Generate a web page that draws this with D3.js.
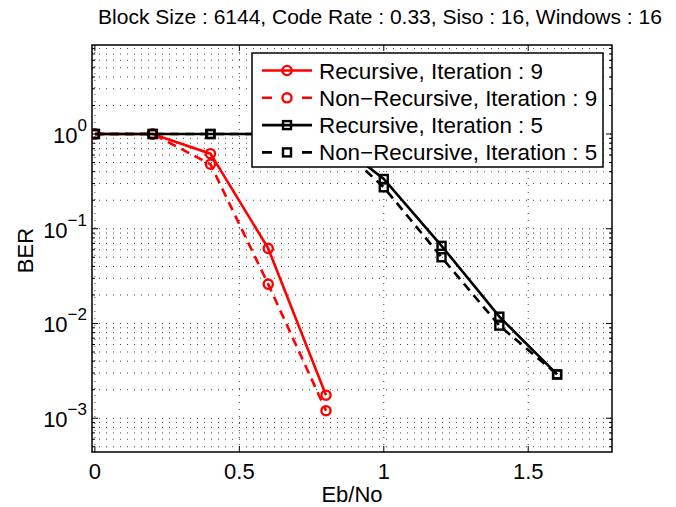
<!DOCTYPE html>
<html lang="en">
<head>
<meta charset="utf-8">
<title>BER vs Eb/No</title>
<script src="https://cdnjs.cloudflare.com/ajax/libs/d3/7.8.5/d3.min.js"></script>
<style>
  body { margin: 0; background: #fff; }
  svg text { font-family: "Liberation Sans", Arial, sans-serif; fill: #000; }
</style>
</head>
<body>
<div id="chart"></div>
<script>
// data
var ebNo = [0, 0.2, 0.4, 0.6, 0.8, 1.0, 1.2, 1.4, 1.6];
var recIter9 = [1, 1, 0.62, 0.062, 0.00175];
var nonRecIter9 = [1, 1, 0.48, 0.026, 0.0012];
var recIter5 = [1, 1, 1, 1, 1, 0.335, 0.066, 0.0118, 0.0029];
var nonRecIter5 = [1, 1, 1, 1, 1, 0.274, 0.050, 0.0095, 0.0029];
var seriesNames = ["Recursive, Iteration : 9", "Non\u2212Recursive, Iteration : 9",
                   "Recursive, Iteration : 5", "Non\u2212Recursive, Iteration : 5"];
var xTicks = [0, 0.5, 1, 1.5];
var yTicks = [1e-3, 1e-2, 1e-1, 1];
var yExps = ["\u22123", "\u22122", "\u22121", "0"];

var width = 676, height = 507;
var margin = {left: 92, top: 45, right: 64, bottom: 55};
var w = width - margin.left - margin.right,
    h = height - margin.top - margin.bottom;

var svg = d3.select("#chart").append("svg")
    .attr("width", width)
    .attr("height", height);

var x = d3.scaleLinear().domain([-0.01, 1.79]).range([0, w]);
var y = d3.scaleLog().domain([4.4e-4, 8.7]).range([h, 0]);

var g = svg.append("g").attr("transform", "translate(" + margin.left + "," + margin.top + ")");

// minor log ticks
var minor = [];
[-4, -3, -2, -1, 0].forEach(function(e) {
  for (var k = 1; k <= 9; k++) {
    var v = k * Math.pow(10, e);
    if (v >= y.domain()[0] && v <= y.domain()[1]) minor.push(v);
  }
});

// grid
g.selectAll(".hgrid").data(minor).enter().append("line")
    .attr("x1", 0).attr("x2", w)
    .attr("y1", function(d) { return y(d); })
    .attr("y2", function(d) { return y(d); })
    .attr("stroke", "#444").attr("stroke-width", 1)
    .attr("stroke-dasharray", "1,6");
g.selectAll(".vgrid").data(xTicks).enter().append("line")
    .attr("x1", function(d) { return x(d); })
    .attr("x2", function(d) { return x(d); })
    .attr("y1", 0).attr("y2", h)
    .attr("stroke", "#444").attr("stroke-width", 1)
    .attr("stroke-dasharray", "1,6");

// ticks inside the box
var isMajor = function(d) { return Math.abs(Math.log10(d) - Math.round(Math.log10(d))) < 1e-6; };
[0, w].forEach(function(px) {
  var dir = px === 0 ? 1 : -1;
  g.selectAll(null).data(minor).enter().append("line")
      .attr("x1", px).attr("x2", function(d) { return px + dir * (isMajor(d) ? 6 : 3); })
      .attr("y1", function(d) { return y(d); })
      .attr("y2", function(d) { return y(d); })
      .attr("stroke", "#000");
});
[0, h].forEach(function(py) {
  var dir = py === 0 ? 1 : -1;
  g.selectAll(null).data(xTicks).enter().append("line")
      .attr("x1", function(d) { return x(d); })
      .attr("x2", function(d) { return x(d); })
      .attr("y1", py).attr("y2", py + dir * 6)
      .attr("stroke", "#000");
});

// series
g.append("clipPath").attr("id", "clip")
    .append("rect").attr("width", w).attr("height", h);
var plot = g.append("g").attr("clip-path", "url(#clip)");

var line = d3.line()
    .x(function(d) { return x(d[0]); })
    .y(function(d) { return y(d[1]); });

var series = [
  {vals: recIter9, color: "#ff0000", dash: null, marker: "circle"},
  {vals: nonRecIter9, color: "#ff0000", dash: "9,6", marker: "circle"},
  {vals: recIter5, color: "#000000", dash: null, marker: "square"},
  {vals: nonRecIter5, color: "#000000", dash: "9,6", marker: "square"}
];

function drawMarker(sel, s, cx, cy) {
  if (s.marker === "circle") {
    sel.append("circle").attr("cx", cx).attr("cy", cy).attr("r", 4.6)
        .attr("fill", "none").attr("stroke", s.color).attr("stroke-width", 2.4);
  } else {
    sel.append("rect").attr("x", cx - 4).attr("y", cy - 4)
        .attr("width", 8).attr("height", 8)
        .attr("fill", "none").attr("stroke", s.color).attr("stroke-width", 2.4);
  }
}

series.forEach(function(s) {
  var pts = s.vals.map(function(v, i) { return [ebNo[i], v]; });
  plot.append("path").datum(pts)
      .attr("d", line)
      .attr("fill", "none")
      .attr("stroke", s.color)
      .attr("stroke-width", 2.6)
      .attr("stroke-dasharray", s.dash);
  pts.forEach(function(p) { drawMarker(plot, s, x(p[0]), y(p[1])); });
});

// box
g.append("rect").attr("width", w).attr("height", h)
    .attr("fill", "none").attr("stroke", "#000").attr("stroke-width", 1.5);

// tick labels
g.selectAll(".xl").data(xTicks).enter().append("text")
    .attr("x", function(d) { return x(d); })
    .attr("y", h + 27)
    .attr("text-anchor", "middle")
    .style("font-size", "22px")
    .text(function(d) { return d; });

yTicks.forEach(function(t, i) {
  var txt = g.append("text")
      .attr("x", -5).attr("y", y(t) + 9)
      .attr("text-anchor", "end")
      .style("font-size", "22px");
  txt.append("tspan").text("10");
  txt.append("tspan").attr("dy", -12).style("font-size", "17px").text(yExps[i]);
});

// axis titles
svg.append("text")
    .attr("x", margin.left + w / 2).attr("y", 502)
    .attr("text-anchor", "middle")
    .style("font-size", "22px")
    .text("Eb/No");
svg.append("text")
    .attr("transform", "translate(33," + (margin.top + h / 2 + 2) + ") rotate(-90)")
    .attr("text-anchor", "middle")
    .style("font-size", "22px")
    .text("BER");
svg.append("text")
    .attr("x", 380).attr("y", 24)
    .attr("text-anchor", "middle")
    .style("font-size", "21px")
    .text("Block Size : 6144, Code Rate : 0.33, Siso : 16, Windows : 16");

// legend
var leg = svg.append("g").attr("transform", "translate(252,53)");
leg.append("rect").attr("width", 351).attr("height", 114)
    .attr("fill", "#fff").attr("stroke", "#000").attr("stroke-width", 1.5);
series.forEach(function(s, i) {
  var cy = 17.5 + i * 27.3;
  leg.append("line").attr("x1", 10).attr("x2", 60)
      .attr("y1", cy).attr("y2", cy)
      .attr("stroke", s.color).attr("stroke-width", 2.6)
      .attr("stroke-dasharray", s.dash ? "10,30,10" : null);
  drawMarker(leg, s, 35, cy);
  leg.append("text").attr("x", 67).attr("y", cy + 8)
      .style("font-size", "22.4px")
      .text(seriesNames[i]);
});
</script>
</body>
</html>
